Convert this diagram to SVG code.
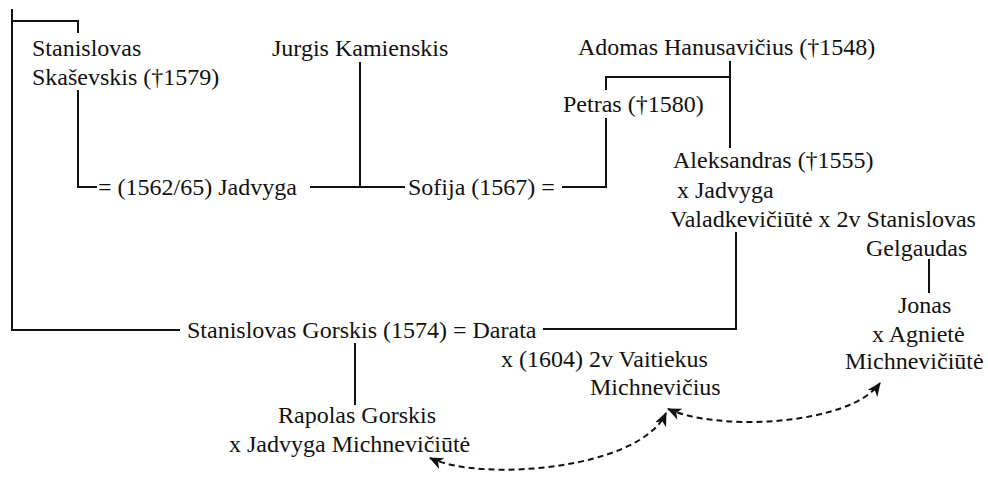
<svg xmlns="http://www.w3.org/2000/svg" width="988" height="477" viewBox="0 0 988 477">
<style>
text{font-family:"Liberation Serif","Times New Roman",serif;font-size:24px;fill:#111}
.ln{fill:none;stroke:#111;stroke-width:2}
.da{fill:none;stroke:#111;stroke-width:2;stroke-dasharray:6 4;marker-start:url(#ah);marker-end:url(#ah)}
</style>
<defs>
<marker id="ah" viewBox="0 0 14 12" refX="13" refY="6" markerWidth="14" markerHeight="12" markerUnits="userSpaceOnUse" orient="auto-start-reverse">
<path d="M0,0 L14,6 L0,12 L4,6 z" fill="#111"/>
</marker>
</defs>
<rect width="988" height="477" fill="#fff"/>
<g id="connectors">
<path class="ln" d="M12,9 V330 H180"/>
<path class="ln" d="M12,21 H78 V33"/>
<path class="ln" d="M78,90 V187 H97"/>
<path class="ln" d="M310,187 H405"/>
<path class="ln" d="M360,62 V187"/>
<path class="ln" d="M562,187 H606 V118"/>
<path class="ln" d="M606,90 V77 H730"/>
<path class="ln" d="M730,61 V148"/>
<path class="ln" d="M543,329 H736 V232"/>
<path class="ln" d="M929,259 V293"/>
<path class="ln" d="M355,343 V405"/>
<path class="da" d="M430,458 C480,482 640,470 666,413"/>
<path class="da" d="M668,409 C720,432 850,425 880,383"/>
</g>
<g id="skasevskis"><text x="32" y="56">Stanislovas</text><text x="32" y="85">Skaševskis (†1579)</text></g>
<g id="jurgis"><text x="272" y="56">Jurgis Kamienskis</text></g>
<g id="adomas"><text x="578" y="55">Adomas Hanusavičius (†1548)</text></g>
<g id="petras"><text x="563" y="112">Petras (†1580)</text></g>
<g id="jadvyga"><text x="98" y="195">= (1562/65) Jadvyga</text></g>
<g id="sofija"><text x="408" y="195">Sofija (1567) =</text></g>
<g id="aleksandras"><text x="673" y="168">Aleksandras (†1555)</text><text x="677" y="198">x Jadvyga</text><text x="670" y="227">Valadkevičiūtė x 2v Stanislovas</text><text x="866" y="256">Gelgaudas</text></g>
<g id="jonas"><text x="898" y="313">Jonas</text><text x="872" y="342">x Agnietė</text><text x="845" y="369">Michnevičiūtė</text></g>
<g id="gorskis"><text x="187" y="338">Stanislovas Gorskis (1574) = Darata</text></g>
<g id="vaitiekus"><text x="501" y="367">x (1604) 2v Vaitiekus</text><text x="590" y="395">Michnevičius</text></g>
<g id="rapolas"><text x="278" y="423">Rapolas Gorskis</text><text x="229" y="452">x Jadvyga Michnevičiūtė</text></g>
</svg>
